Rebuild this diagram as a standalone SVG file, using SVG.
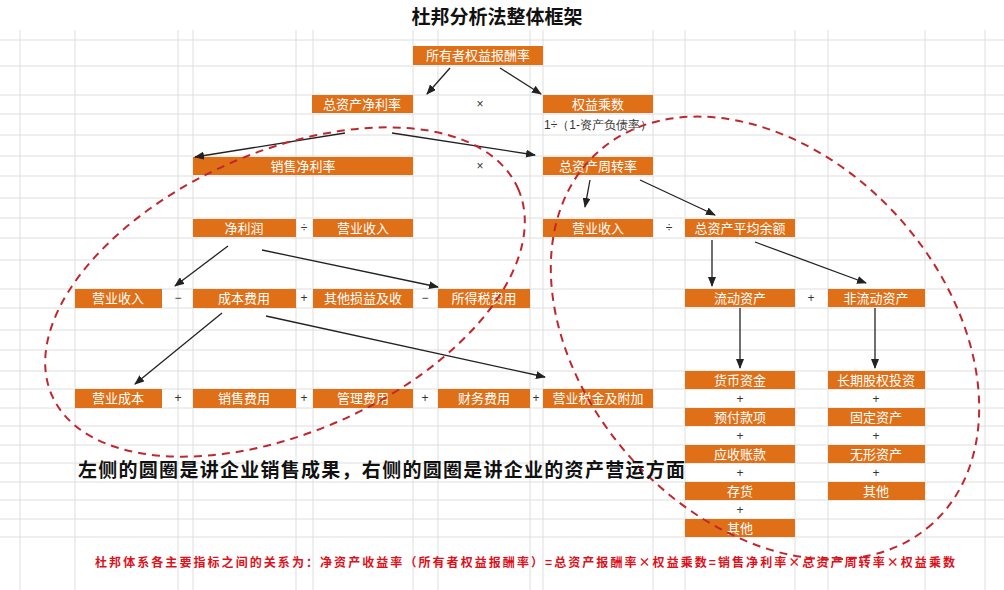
<svg xmlns="http://www.w3.org/2000/svg" width="1004" height="590" viewBox="0 0 1004 590">
<style>
.b{fill:#e07018}
.t{font-family:"Noto Sans CJK SC",sans-serif;font-size:13px;fill:#fff;text-anchor:middle}
.o{font-family:"Liberation Sans",sans-serif;font-size:12px;fill:#333;text-anchor:middle}
.g{stroke:#dedede;stroke-width:1}
.c{stroke:#222;stroke-width:1.3;fill:none;marker-end:url(#a)}
.e{fill:none;stroke:#c0272d;stroke-width:2;stroke-dasharray:8 6}
</style>
<defs><marker id="a" markerWidth="10" markerHeight="8" refX="9" refY="4" orient="auto" markerUnits="userSpaceOnUse"><path d="M0,0L10,4L0,8z" fill="#222"/></marker></defs>
<rect width="1004" height="590" fill="#fff"/>
<g class="g">
<path d="M0,40H1004M0,66H1004M0,95H1004M0,114H1004M0,135H1004M0,156H1004M0,176H1004M0,198H1004M0,218H1004M0,238H1004M0,260H1004M0,289H1004M0,308H1004M0,330H1004M0,350H1004M0,371H1004M0,389H1004M0,408H1004M0,426H1004M0,445H1004M0,463H1004M0,482H1004M0,500H1004M0,519H1004M0,537H1004"/>
<path d="M20,30V590M75,30V590M178,30V590M193,30V590M296,30V590M313,30V590M413,30V590M438,30V590M530,30V590M543,30V590M653,30V590M685,30V590M795,30V590M828,30V590M925,30V590M985,30V590"/>
</g>
<text x="497" y="24" font-family="Noto Sans CJK SC,sans-serif" font-size="19" font-weight="bold" text-anchor="middle" fill="#111">杜邦分析法整体框架</text>
<g id="n1"><rect class="b" x="413" y="46" width="130" height="19"/><text class="t" x="478" y="60">所有者权益报酬率</text></g>
<g id="n2"><rect class="b" x="312" y="95" width="101" height="18"/><text class="t" x="362" y="109">总资产净利率</text></g>
<g id="n3"><rect class="b" x="543" y="95" width="110" height="18"/><text class="t" x="598" y="109">权益乘数</text></g>
<text class="o" x="480" y="108">×</text>
<text class="o" x="598" y="129" font-size="9">1÷（1-资产负债率）</text>
<g id="n4"><rect class="b" x="193" y="157" width="220" height="18"/><text class="t" x="303" y="171">销售净利率</text></g>
<g id="n5"><rect class="b" x="543" y="157" width="110" height="18"/><text class="t" x="598" y="171">总资产周转率</text></g>
<text class="o" x="480" y="170">×</text>
<g id="n6"><rect class="b" x="193" y="219" width="103" height="18"/><text class="t" x="244" y="233">净利润</text></g>
<text class="o" x="304" y="232">÷</text>
<g id="n7"><rect class="b" x="313" y="219" width="100" height="18"/><text class="t" x="363" y="233">营业收入</text></g>
<g id="n8"><rect class="b" x="543" y="219" width="110" height="18"/><text class="t" x="598" y="233">营业收入</text></g>
<text class="o" x="669" y="232">÷</text>
<g id="n9"><rect class="b" x="685" y="219" width="110" height="18"/><text class="t" x="740" y="233">总资产平均余额</text></g>
<g id="n10"><rect class="b" x="75" y="289" width="87" height="19"/><text class="t" x="118" y="303">营业收入</text></g>
<text class="o" x="178" y="302">−</text>
<g id="n11"><rect class="b" x="193" y="289" width="103" height="19"/><text class="t" x="244" y="303">成本费用</text></g>
<text class="o" x="304" y="302">+</text>
<g id="n12"><rect class="b" x="313" y="289" width="100" height="19"/><text class="t" x="363" y="303">其他损益及收</text></g>
<text class="o" x="425" y="302">−</text>
<g id="n13"><rect class="b" x="438" y="289" width="92" height="19"/><text class="t" x="484" y="303">所得税费用</text></g>
<g id="n14"><rect class="b" x="685" y="289" width="110" height="18"/><text class="t" x="740" y="303">流动资产</text></g>
<text class="o" x="811" y="302">+</text>
<g id="n15"><rect class="b" x="828" y="289" width="97" height="18"/><text class="t" x="876" y="303">非流动资产</text></g>
<g id="n16"><rect class="b" x="75" y="389" width="87" height="19"/><text class="t" x="118" y="403">营业成本</text></g>
<text class="o" x="178" y="402">+</text>
<g id="n17"><rect class="b" x="193" y="389" width="103" height="19"/><text class="t" x="244" y="403">销售费用</text></g>
<text class="o" x="304" y="402">+</text>
<g id="n18"><rect class="b" x="313" y="389" width="100" height="19"/><text class="t" x="363" y="403">管理费用</text></g>
<text class="o" x="425" y="402">+</text>
<g id="n19"><rect class="b" x="438" y="389" width="92" height="19"/><text class="t" x="484" y="403">财务费用</text></g>
<text class="o" x="536" y="402">+</text>
<g id="n20"><rect class="b" x="543" y="389" width="110" height="19"/><text class="t" x="598" y="403">营业税金及附加</text></g>
<g id="n21"><rect class="b" x="685" y="371" width="110" height="18"/><text class="t" x="740" y="385">货币资金</text></g>
<g id="n22"><rect class="b" x="685" y="408" width="110" height="18"/><text class="t" x="740" y="422">预付款项</text></g>
<g id="n23"><rect class="b" x="685" y="445" width="110" height="18"/><text class="t" x="740" y="459">应收账款</text></g>
<g id="n24"><rect class="b" x="685" y="482" width="110" height="18"/><text class="t" x="740" y="496">存货</text></g>
<g id="n25"><rect class="b" x="685" y="519" width="110" height="18"/><text class="t" x="740" y="533">其他</text></g>
<g id="n26"><rect class="b" x="828" y="371" width="97" height="18"/><text class="t" x="876" y="385">长期股权投资</text></g>
<g id="n27"><rect class="b" x="828" y="408" width="97" height="18"/><text class="t" x="876" y="422">固定资产</text></g>
<g id="n28"><rect class="b" x="828" y="445" width="97" height="18"/><text class="t" x="876" y="459">无形资产</text></g>
<g id="n29"><rect class="b" x="828" y="482" width="97" height="18"/><text class="t" x="876" y="496">其他</text></g>
<g class="o"><text x="740" y="403">+</text><text x="740" y="440">+</text><text x="740" y="477">+</text><text x="740" y="514">+</text><text x="876" y="403">+</text><text x="876" y="440">+</text><text x="876" y="477">+</text></g>
<g id="connectors">
<path class="c" d="M450,68L427,94"/>
<path class="c" d="M500,68L541,94"/>
<path class="c" d="M345,133L195,157"/>
<path class="c" d="M392,133L535,155"/>
<path class="c" d="M590,180L585,207"/>
<path class="c" d="M640,180L715,215"/>
<path class="c" d="M228,246L175,286"/>
<path class="c" d="M262,250L438,287"/>
<path class="c" d="M222,313L135,384"/>
<path class="c" d="M266,316L545,377"/>
<path class="c" d="M712,240V286"/>
<path class="c" d="M755,242L866,283"/>
<path class="c" d="M740,308V368"/>
<path class="c" d="M875,308V368"/>
</g>
<ellipse class="e" cx="285" cy="292" rx="255" ry="140" transform="rotate(-24 285 292)"/>
<ellipse class="e" cx="765" cy="338" rx="250" ry="180" transform="rotate(48 765 338)"/>
<text x="78" y="477" font-family="Noto Sans CJK SC,sans-serif" font-size="19" font-weight="bold" fill="#111" textLength="607">左侧的圆圈是讲企业销售成果，右侧的圆圈是讲企业的资产营运方面</text>
<text x="95" y="567" font-family="Noto Sans CJK SC,sans-serif" font-size="12" font-weight="bold" fill="#e0101a" textLength="860">杜邦体系各主要指标之间的关系为：净资产收益率（所有者权益报酬率）=总资产报酬率×权益乘数=销售净利率×总资产周转率×权益乘数</text>
</svg>
